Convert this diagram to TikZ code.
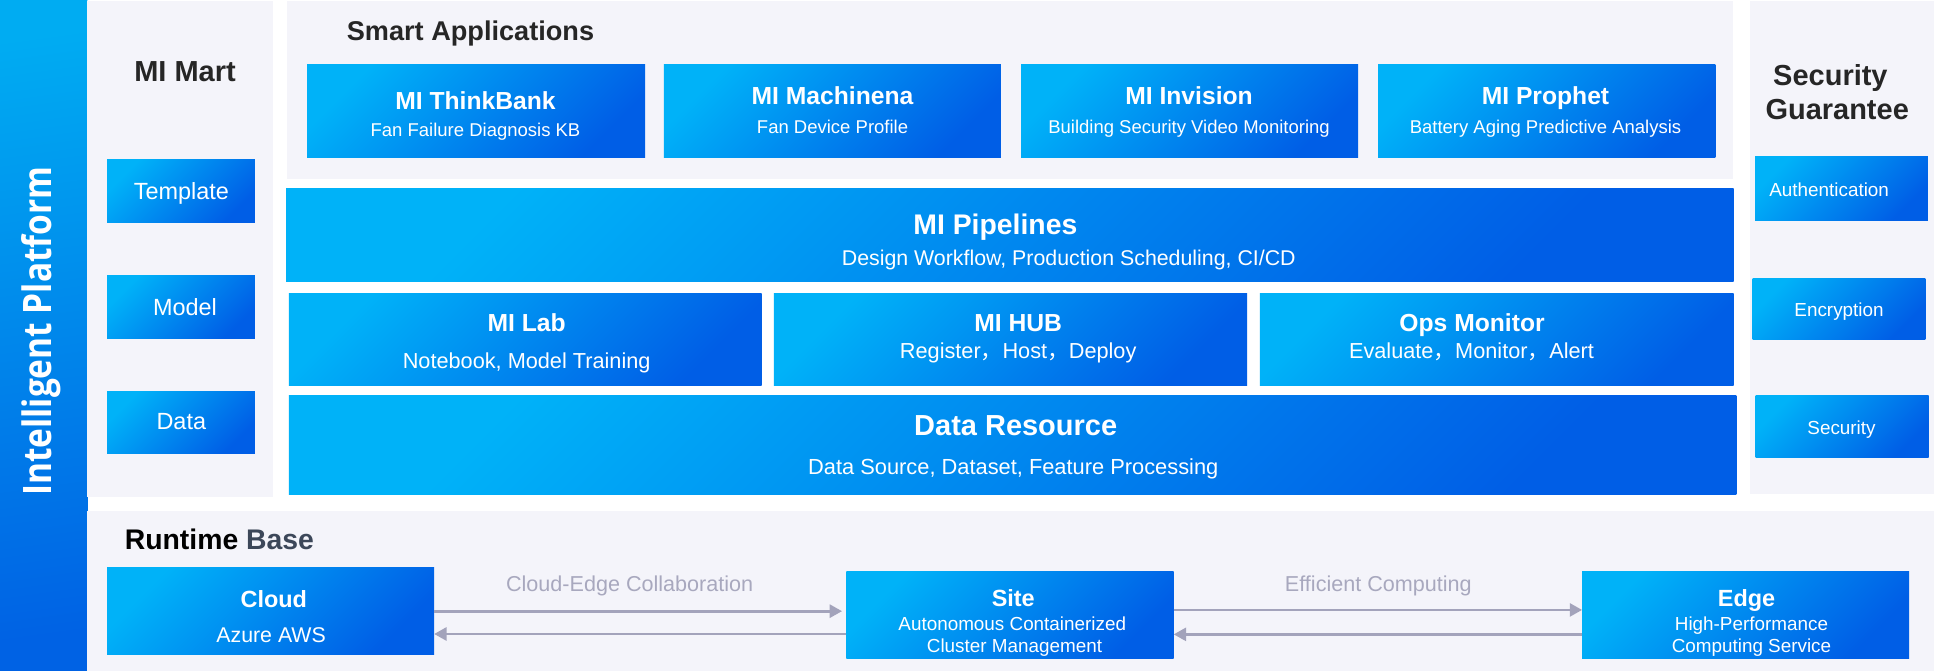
\documentclass[tikz,border=0pt]{standalone}
\usepackage{fontspec}
\setmainfont{Liberation Sans}
\newfontfamily\barfont{Open Sans}
\newfontfamily\cjk{Noto Sans CJK SC}
\usetikzlibrary{arrows.meta}
\definecolor{cLight}{RGB}{0,178,248}
\definecolor{cDark}{RGB}{0,94,230}
\definecolor{barTop}{RGB}{0,172,242}
\definecolor{barBot}{RGB}{0,98,228}
\definecolor{panelgray}{RGB}{244,244,250}
\definecolor{arrowgray}{RGB}{163,163,187}
\definecolor{labelgray}{RGB}{168,168,190}
\definecolor{headgray}{RGB}{38,38,38}
\definecolor{basegray}{RGB}{60,71,89}
\newcommand\fsz[1]{\fontsize{#1}{#1}\selectfont}
\newcommand\cc{{\cjk ，}}
\begin{document}
\begin{tikzpicture}[x=1pt,y=-1pt,
  pnl/.style={fill=panelgray, draw=none, inner sep=0pt, outer sep=0pt, anchor=north west},
  gbox/.style={top color=cLight, bottom color=cDark, shading angle=45, draw=none, inner sep=0pt, outer sep=0pt, anchor=north west},
  wtxt/.style={text=white, inner sep=0pt, anchor=base},
  ttl/.style={wtxt, font=\bfseries\fsz{#1}},
  stxt/.style={wtxt, font=\fsz{#1}},
  hd/.style={text=headgray, inner sep=0pt, anchor=base, font=\bfseries\fsz{#1}},
  conn/.style={draw=arrowgray, line width=2.2pt, -{Triangle[length=10pt,width=10.5pt]}},
  clab/.style={text=labelgray, inner sep=0pt, anchor=base, font=\fsz{17.5}},
]
\useasboundingbox (0,0) rectangle (1568,544);
\fill[white] (0,0) rectangle (1568,544);

% left bar
\node[top color=barTop, bottom color=barBot, shading angle=8, draw=none, inner sep=0pt, outer sep=0pt,
      anchor=north west, minimum width=70.8pt, minimum height=544pt] (bar) at (0,0) {};
\node[text=white, inner sep=0pt, anchor=base, rotate=90] (barT) at (41.9,268.5)
  {\resizebox{267pt}{24.3pt}{\barfont\bfseries Intelligent Platform}};

% panels
\node[pnl, minimum width=150.7pt, minimum height=401.7pt] (martP) at (70.8,1) {};
\node[pnl, minimum width=1172.6pt, minimum height=144pt] (appsP) at (232.8,1) {};
\node[pnl, minimum width=149.6pt, minimum height=399.5pt] (secP) at (1418.4,1) {};
\node[pnl, minimum width=1497.2pt, minimum height=129.7pt] (runP) at (70.8,414.3) {};

% MI Mart
\node[hd=23.5] (martT) at (150,66) {MI Mart};
\node[gbox, minimum width=119.9pt, minimum height=50.8pt] (tpl) at (86.8,129.7) {};
\node[stxt=19] (tplT) at (147,161.5) {Template};
\node[gbox, minimum width=119.9pt, minimum height=51.3pt] (mdl) at (86.8,223) {};
\node[stxt=19] (mdlT) at (150,255.5) {Model};
\node[gbox, minimum width=119.9pt, minimum height=50.8pt] (dat) at (86.8,317) {};
\node[stxt=19] (datT) at (147,348.5) {Data};

% Smart applications
\node[hd=22, anchor=base west] (appsT) at (281,33) {Smart Applications};
\node[gbox, minimum width=274pt, minimum height=75.9pt] (tb) at (249,51.9) {};
\node[ttl=20] (tbT) at (385.5,89) {MI ThinkBank};
\node[stxt=15] (tbS) at (385.5,111) {Fan Failure Diagnosis KB};
\node[gbox, minimum width=273.3pt, minimum height=75.9pt] (mc) at (538.2,51.9) {};
\node[ttl=20] (mcT) at (675,85) {MI Machinena};
\node[stxt=15] (mcS) at (675,108) {Fan Device Profile};
\node[gbox, minimum width=273.2pt, minimum height=75.9pt] (iv) at (827.8,51.9) {};
\node[ttl=20] (ivT) at (964,85) {MI Invision};
\node[stxt=15] (ivS) at (964,108) {Building Security Video Monitoring};
\node[gbox, minimum width=273.5pt, minimum height=75.9pt] (pr) at (1117.3,51.9) {};
\node[ttl=20] (prT) at (1253,85) {MI Prophet};
\node[stxt=15] (prS) at (1253,108) {Battery Aging Predictive Analysis};

% pipelines
\node[gbox, minimum width=1173.6pt, minimum height=75.2pt] (pl) at (232,153.2) {};
\node[ttl=23] (plT) at (807,190.5) {MI Pipelines};
\node[stxt=17.3] (plS) at (866.5,215.4) {Design Workflow, Production Scheduling, CI/CD};

% middle row
\node[gbox, minimum width=383.3pt, minimum height=74.9pt] (lab) at (234.2,237.8) {};
\node[ttl=20] (labT) at (427,269) {MI Lab};
\node[stxt=17.6] (labS) at (427,299) {Notebook, Model Training};
\node[gbox, minimum width=383.5pt, minimum height=74.9pt] (hub) at (627.5,237.8) {};
\node[ttl=20] (hubT) at (825.5,268.5) {MI HUB};
\node[stxt=17.6] (hubS) at (825.5,290.5) {Register\cc Host\cc Deploy};
\node[gbox, minimum width=384.2pt, minimum height=74.9pt] (ops) at (1021.4,237.8) {};
\node[ttl=20] (opsT) at (1193.5,269) {Ops Monitor};
\node[stxt=17.6] (opsS) at (1193,290.5) {Evaluate\cc Monitor\cc Alert};

% data resource
\node[gbox, minimum width=1173.6pt, minimum height=79.8pt] (dr) at (234.2,321) {};
\node[ttl=23.5] (drT) at (823.5,352.7) {Data Resource};
\node[stxt=17.7] (drS) at (821.5,385) {Data Source, Dataset, Feature Processing};

% security
\node[hd=23.5] (secT1) at (1484,69.3) {Security};
\node[hd=23.5] (secT2) at (1489.5,97) {Guarantee};
\node[gbox, minimum width=140pt, minimum height=51.4pt] (auth) at (1423,127) {};
\node[stxt=15.3] (authT) at (1483,159) {Authentication};
\node[gbox, minimum width=140pt, minimum height=49.3pt] (enc) at (1421,225.7) {};
\node[stxt=15.3] (encT) at (1491,256.7) {Encryption};
\node[gbox, minimum width=140.4pt, minimum height=50pt] (sec) at (1423.3,321) {};
\node[stxt=15.3] (secT) at (1493,352) {Security};

% runtime base
\node[inner sep=0pt, anchor=base west, font=\bfseries\fsz{23}] (rbT) at (101,445.4)
  {\textcolor{black}{Runtime} \textcolor{basegray}{Base}};
\node[gbox, minimum width=265.2pt, minimum height=70.5pt] (cloud) at (86.8,460) {};
\node[ttl=19] (cloudT) at (222,492.4) {Cloud};
\node[stxt=17.3] (cloudS) at (219.8,520.8) {Azure AWS};
\node[gbox, minimum width=265.4pt, minimum height=70.7pt] (site) at (686.2,463) {};
\node[ttl=19] (siteT) at (821.5,492) {Site};
\node[stxt=15.3] (siteS1) at (820.7,510.8) {Autonomous Containerized};
\node[stxt=15.3] (siteS2) at (822.5,529.2) {Cluster Management};
\node[gbox, minimum width=265.1pt, minimum height=70.7pt] (edge) at (1282.7,463) {};
\node[ttl=19] (edgeT) at (1416,492) {Edge};
\node[stxt=15.3] (edgeS1) at (1420,510.8) {High-Performance};
\node[stxt=15.3] (edgeS2) at (1420,529.2) {Computing Service};

% connectors
\coordinate (upL) at (0,495.5);
\coordinate (loL) at (0,514);
\coordinate (upR) at (0,494.5);
\coordinate (loR) at (0,514.3);
\draw[conn, shorten >=3.5pt] (cloud.east |- upL) -- (site.west |- upL);
\draw[conn] (site.west |- loL) -- (cloud.east |- loL);
\draw[conn] (site.east |- upR) -- (edge.west |- upR);
\draw[conn] (edge.west |- loR) -- (site.east |- loR);
\node[clab] (lab1) at (510.5,479.7) {Cloud-Edge Collaboration};
\node[clab] (lab2) at (1117.5,479.7) {Efficient Computing};
\end{tikzpicture}
\end{document}
